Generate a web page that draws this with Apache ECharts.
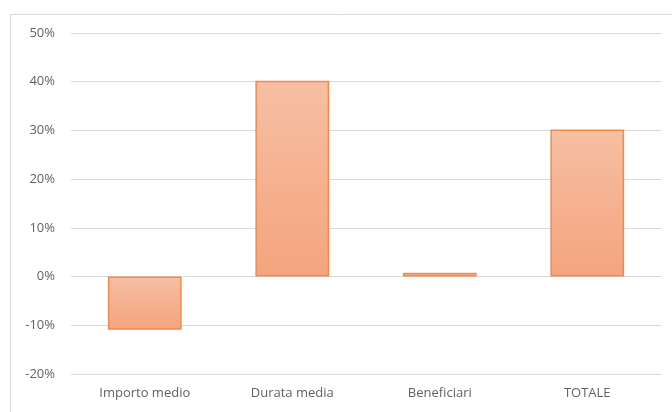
<!DOCTYPE html>
<html><head><meta charset="utf-8">
<script src="https://cdn.jsdelivr.net/npm/echarts@6/dist/echarts.min.js"></script>
<style>html,body{margin:0;padding:0;background:#fff}#c{width:672px;height:412px}</style>
</head><body><div id="c"></div>
<script>
const categories = ['Importo medio', 'Durata media', 'Beneficiari', 'TOTALE'];
const values = [-10.9, 40.2, 0.8, 30.2];
const yMin = -20, yMax = 50, yStep = 10;

const chart = echarts.init(document.getElementById('c'), null, {renderer: 'canvas'});
chart.setOption({
  animation: false,
  backgroundColor: '#fff',
  graphic: [{
    type: 'rect', shape: {x: 10.5, y: 14.5, width: 680, height: 420},
    style: {fill: 'none', stroke: '#d9d9d9', lineWidth: 1}, silent: true
  }],
  grid: {left: 71, right: 11, top: 33, bottom: 38},
  xAxis: {
    type: 'category', data: categories,
    axisLine: {show: false}, axisTick: {show: false},
    axisLabel: {color: '#626262', fontFamily: 'Open Sans', fontSize: 13, margin: 13}
  },
  yAxis: {
    type: 'value', min: yMin, max: yMax, interval: yStep,
    axisLine: {show: false}, axisTick: {show: false},
    axisLabel: {color: '#626262', fontFamily: 'Open Sans', fontSize: 13, margin: 16,
      formatter: v => v + '%'},
    splitLine: {lineStyle: {color: '#d9d9d9', width: 1}}
  },
  series: [{
    type: 'bar', data: values, barWidth: '50%',
    itemStyle: {
      color: new echarts.graphic.LinearGradient(0, 0, 0, 1, [
        {offset: 0, color: '#F6BFA3'}, {offset: 1, color: '#F4A47E'}
      ]),
      borderColor: '#EF8A4C', borderWidth: 1.5
    }
  }]
});
</script></body></html>
